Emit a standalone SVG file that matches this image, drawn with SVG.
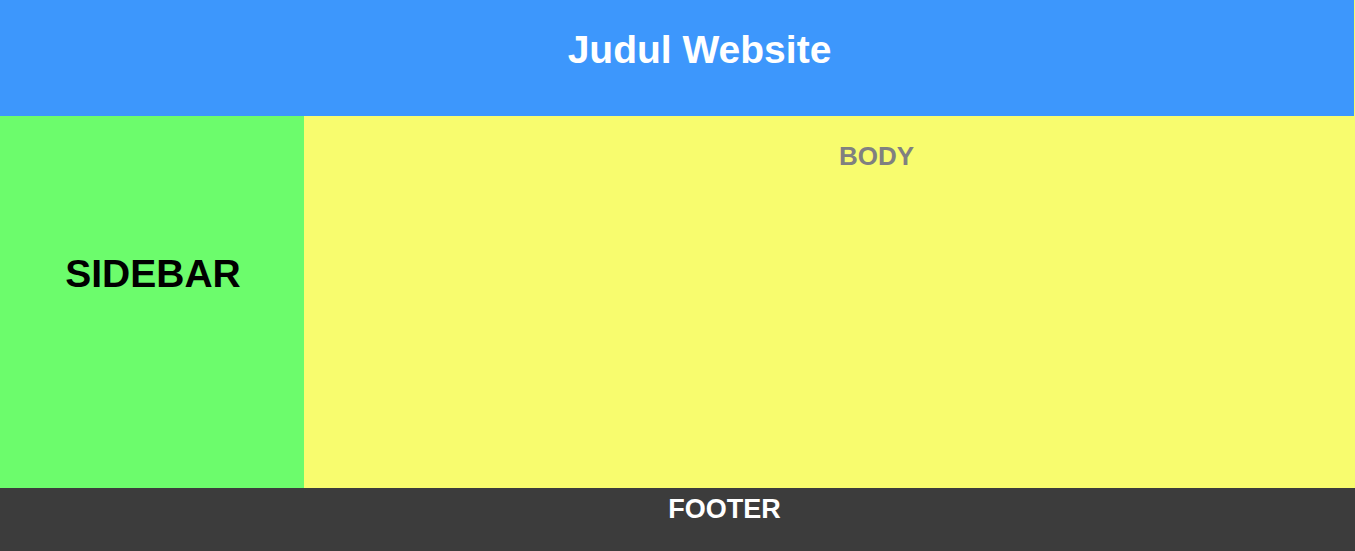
<svg xmlns="http://www.w3.org/2000/svg" width="1355" height="551" viewBox="0 0 1355 551">
<style>
text{font-family:"Liberation Sans",Arial,sans-serif;font-weight:bold;text-anchor:middle}
</style>
<g id="body">
<rect x="304" y="0" width="1051" height="488" fill="#f8fc6e"/>
<text x="876.5" y="165" font-size="26" fill="#808080">BODY</text>
</g>
<g id="header">
<rect x="0" y="0" width="1354" height="116" fill="#3d97fc"/>
<text x="699.5" y="63" font-size="39" fill="#ffffff">Judul Website</text>
</g>
<g id="sidebar">
<rect x="0" y="116" width="304" height="372" fill="#6cfc6c"/>
<text x="153" y="287" font-size="39" fill="#000000">SIDEBAR</text>
</g>
<g id="footer">
<rect x="0" y="488" width="1355" height="63" fill="#3c3c3c"/>
<text x="724.5" y="518" font-size="27" fill="#ffffff">FOOTER</text>
</g>
<g id="connectors"/>
</svg>
